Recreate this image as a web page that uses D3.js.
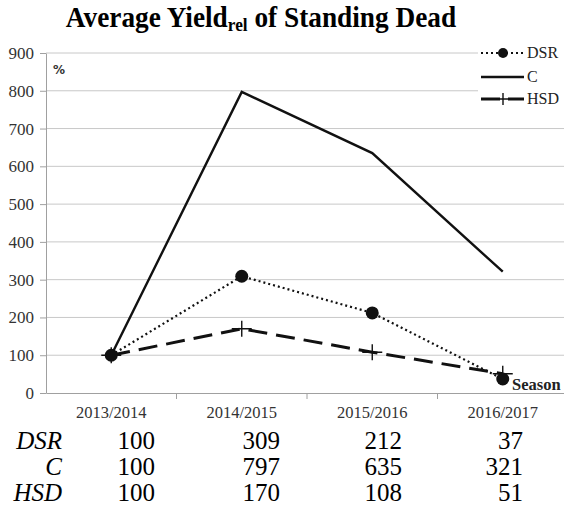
<!DOCTYPE html>
<html>
<head>
<meta charset="utf-8">
<script src="https://cdn.jsdelivr.net/npm/d3@7"></script>
<style>
body { margin: 0; background: #fff; }
</style>
</head>
<body>
<div id="chart"></div>
<script>
const seasons = ["2013/2014", "2014/2015", "2015/2016", "2016/2017"]
const dsr = [100, 309, 212, 37]
const cVals = [100, 797, 635, 321]
const hsd = [100, 170, 108, 51]
const yTicks = [0, 100, 200, 300, 400, 500, 600, 700, 800, 900]

const W = 564, H = 515
const plotLeft = 46, plotRight = 568, plotTop = 53, plotBottom = 393
const serif = "'Liberation Serif', 'Times New Roman', Times, serif"

const svg = d3.select("#chart").append("svg")
	.attr("width", W)
	.attr("height", H)
	.style("font-family", serif)

const x = d3.scaleBand().domain(seasons).range([plotLeft, plotRight])
const y = d3.scaleLinear().domain([0, 900]).range([plotBottom, plotTop])
const cx = d => x(d) + x.bandwidth() / 2

// title (slightly squeezed like the source image)
const title = svg.append("text")
	.attr("transform", "translate(261,27) scale(0.91,1)")
	.attr("text-anchor", "middle")
	.attr("font-size", 30)
	.attr("font-weight", "bold")
	.style("font-family", serif)
title.append("tspan").text("Average Yield")
title.append("tspan").attr("font-size", 19).attr("dy", 4).text("rel")
title.append("tspan").attr("dy", -4).text(" of Standing Dead")

// grid
svg.append("g").selectAll("line")
	.data(yTicks.filter(d => d > 0))
	.join("line")
	.attr("x1", plotLeft).attr("x2", W)
	.attr("y1", d => y(d)).attr("y2", d => y(d))
	.attr("stroke", "#c8c8c8")
	.attr("stroke-width", 1)

// y axis
const yAxis = svg.append("g")
	.attr("transform", `translate(${plotLeft},0)`)
	.call(d3.axisLeft(y).tickValues(yTicks).tickSize(6).tickSizeOuter(0))
yAxis.attr("font-family", null)
yAxis.select(".domain").attr("stroke", "#a0a0a0")
yAxis.selectAll(".tick line").attr("stroke", "#a0a0a0")
yAxis.selectAll(".tick text")
	.style("font-family", serif)
	.attr("font-size", 17)
	.attr("fill", "#333")
	.attr("x", -12)

// x axis
const xAxis = svg.append("g")
	.attr("transform", `translate(0,${plotBottom})`)
	.call(d3.axisBottom(x).tickSize(0).tickSizeOuter(0))
xAxis.attr("font-family", null)
xAxis.select(".domain").attr("stroke", "#a0a0a0")
xAxis.selectAll(".tick text")
	.style("font-family", serif)
	.attr("font-size", 16.5)
	.attr("fill", "#333")
	.attr("y", 25)
	.attr("dy", 0)
svg.append("g").selectAll("line")
	.data(seasons.slice(1))
	.join("line")
	.attr("x1", d => x(d)).attr("x2", d => x(d))
	.attr("y1", plotBottom).attr("y2", plotBottom + 6)
	.attr("stroke", "#a0a0a0")

svg.append("text")
	.attr("x", 53).attr("y", 74)
	.attr("font-size", 12)
	.attr("font-weight", "bold")
	.attr("fill", "#333")
	.style("font-family", "'DejaVu Sans', sans-serif")
	.text("%")

const line = d3.line()
	.x((d, i) => cx(seasons[i]))
	.y(d => y(d))

// C solid
svg.append("path")
	.attr("d", line(cVals))
	.attr("fill", "none")
	.attr("stroke", "#111")
	.attr("stroke-width", 2.4)

// HSD dashed
svg.append("path")
	.attr("d", line(hsd))
	.attr("fill", "none")
	.attr("stroke", "#111")
	.attr("stroke-width", 3)
	.attr("stroke-dasharray", "19,9")
svg.append("g").selectAll("path")
	.data(hsd)
	.join("path")
	.attr("d", (d, i) => {
		const px = cx(seasons[i]), py = y(d)
		return `M${px - 10},${py}H${px + 10}M${px},${py - 8}V${py + 8}`
	})
	.attr("stroke", "#111")
	.attr("stroke-width", 1.4)

// DSR dotted
svg.append("path")
	.attr("d", line(dsr))
	.attr("fill", "none")
	.attr("stroke", "#111")
	.attr("stroke-width", 2.2)
	.attr("stroke-dasharray", "2,3")
svg.append("g").selectAll("circle")
	.data(dsr)
	.join("circle")
	.attr("cx", (d, i) => cx(seasons[i]))
	.attr("cy", d => y(d))
	.attr("r", 6.5)
	.attr("fill", "#111")

// Season label
svg.append("text")
	.attr("x", 512).attr("y", 390)
	.attr("font-size", 16.5)
	.attr("font-weight", "bold")
	.attr("fill", "#222")
	.style("font-family", serif)
	.text("Season")

// legend
const lg = svg.append("g")
lg.append("rect").attr("x", 478).attr("y", 42).attr("width", 86).attr("height", 68).attr("fill", "#fff")
const legendItems = [
	{ name: "DSR", yy: 53 },
	{ name: "C", yy: 77 },
	{ name: "HSD", yy: 99 }
]
legendItems.forEach(it => {
	const l = lg.append("line")
		.attr("x1", 481).attr("x2", 524)
		.attr("y1", it.yy).attr("y2", it.yy)
		.attr("stroke", "#111")
	if (it.name === "DSR") {
		l.attr("stroke-width", 2.2).attr("stroke-dasharray", "2,3")
		lg.append("circle").attr("cx", 503).attr("cy", it.yy).attr("r", 5).attr("fill", "#111")
	} else if (it.name === "C") {
		l.attr("stroke-width", 2.4)
	} else {
		l.attr("stroke-width", 3).attr("stroke-dasharray", "19,8")
		lg.append("path")
			.attr("d", `M${503 - 7},${it.yy}H${503 + 7}M503,${it.yy - 6}V${it.yy + 6}`)
			.attr("stroke", "#111").attr("stroke-width", 1.4)
	}
	lg.append("text")
		.attr("x", 527).attr("y", it.yy + 5)
		.attr("font-size", 16)
		.attr("fill", "#222")
		.style("font-family", serif)
		.text(it.name)
})

// data table
const rows = [
	{ name: "DSR", vals: dsr, yy: 449 },
	{ name: "C", vals: cVals, yy: 475 },
	{ name: "HSD", vals: hsd, yy: 501 }
]
const colRight = [155, 280, 402, 523]
rows.forEach(r => {
	svg.append("text")
		.attr("x", 62).attr("y", r.yy)
		.attr("text-anchor", "end")
		.attr("font-size", 25)
		.attr("font-style", "italic")
		.style("font-family", serif)
		.text(r.name)
	svg.append("g").selectAll("text")
		.data(r.vals)
		.join("text")
		.attr("x", (d, i) => colRight[i])
		.attr("y", r.yy)
		.attr("text-anchor", "end")
		.attr("font-size", 25)
		.style("font-family", serif)
		.text(d => d)
})
</script>
</body>
</html>
